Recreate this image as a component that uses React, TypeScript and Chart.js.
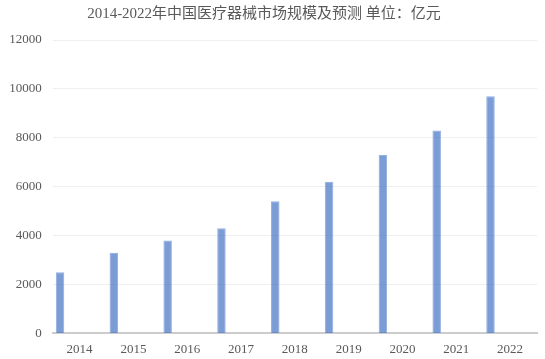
import React, { useEffect, useRef } from "react";
import { Chart, registerables } from "chart.js";

Chart.register(...registerables);

const categories = ["2014", "2015", "2016", "2017", "2018", "2019", "2020", "2021", "2022"];
const marketSize = [2500, 3300, 3800, 4300, 5400, 6200, 7300, 8300, 9700];
const emptySeries = [null, null, null, null, null, null, null, null, null];
const titleText = "2014-2022年中国医疗器械市场规模及预测 单位：亿元";

const titlePlugin = {
  id: "customTitle",
  afterDraw(chart: any) {
    const ctx = chart.ctx;
    ctx.save();
    ctx.fillStyle = "#595959";
    ctx.font = "15px 'Liberation Serif', 'Noto Sans CJK SC', serif";
    ctx.textAlign = "center";
    ctx.textBaseline = "middle";
    ctx.fillText(titleText, 264, 14);
    ctx.restore();
  },
};

export default function App() {
  const ref = useRef<HTMLCanvasElement | null>(null);
  useEffect(() => {
    if (!ref.current) return;
    const chart = new Chart(ref.current, {
      type: "bar",
      data: {
        labels: categories,
        datasets: [
          {
            label: "市场规模",
            data: marketSize,
            backgroundColor: "rgba(68,114,196,0.7)",
            borderColor: "rgba(120,158,220,0.8)",
            borderWidth: 1,
            categoryPercentage: 1.456,
            barPercentage: 0.217,
          },
          {
            label: "",
            data: emptySeries as any,
            backgroundColor: "rgba(0,0,0,0)",
            categoryPercentage: 1.456,
            barPercentage: 0.217,
          },
        ],
      },
      options: {
        animation: false,
        responsive: false,
        maintainAspectRatio: false,
        layout: { padding: { left: 8, right: 8, top: 40, bottom: -6 } },
        plugins: {
          legend: { display: false },
          tooltip: { enabled: false },
          title: { display: false },
        },
        scales: {
          x: {
            grid: { display: false, drawTicks: false },
            border: { display: true, color: "#cccccc", width: 2 },
            ticks: {
              color: "#595959",
              font: { family: "'Liberation Serif', serif", size: 13 },
              padding: 8,
              maxRotation: 0,
            },
          },
          y: {
            min: 0,
            max: 12000,
            grid: { color: "#efefef", drawTicks: false },
            border: { display: false },
            afterFit: (scale: any) => {
              scale.width = 44.7;
            },
            ticks: {
              stepSize: 2000,
              color: "#595959",
              font: { family: "'Liberation Serif', serif", size: 13 },
              padding: 11,
              callback: (v: any) => String(v),
            },
          },
        },
      },
      plugins: [titlePlugin],
    });
    return () => chart.destroy();
  }, []);
  return (
    <div style={{ position: "fixed", left: 0, top: 0, width: 545, height: 359, background: "#fff" }}>
      <canvas ref={ref} width={545} height={359} style={{ width: 545, height: 359 }} />
    </div>
  );
}
